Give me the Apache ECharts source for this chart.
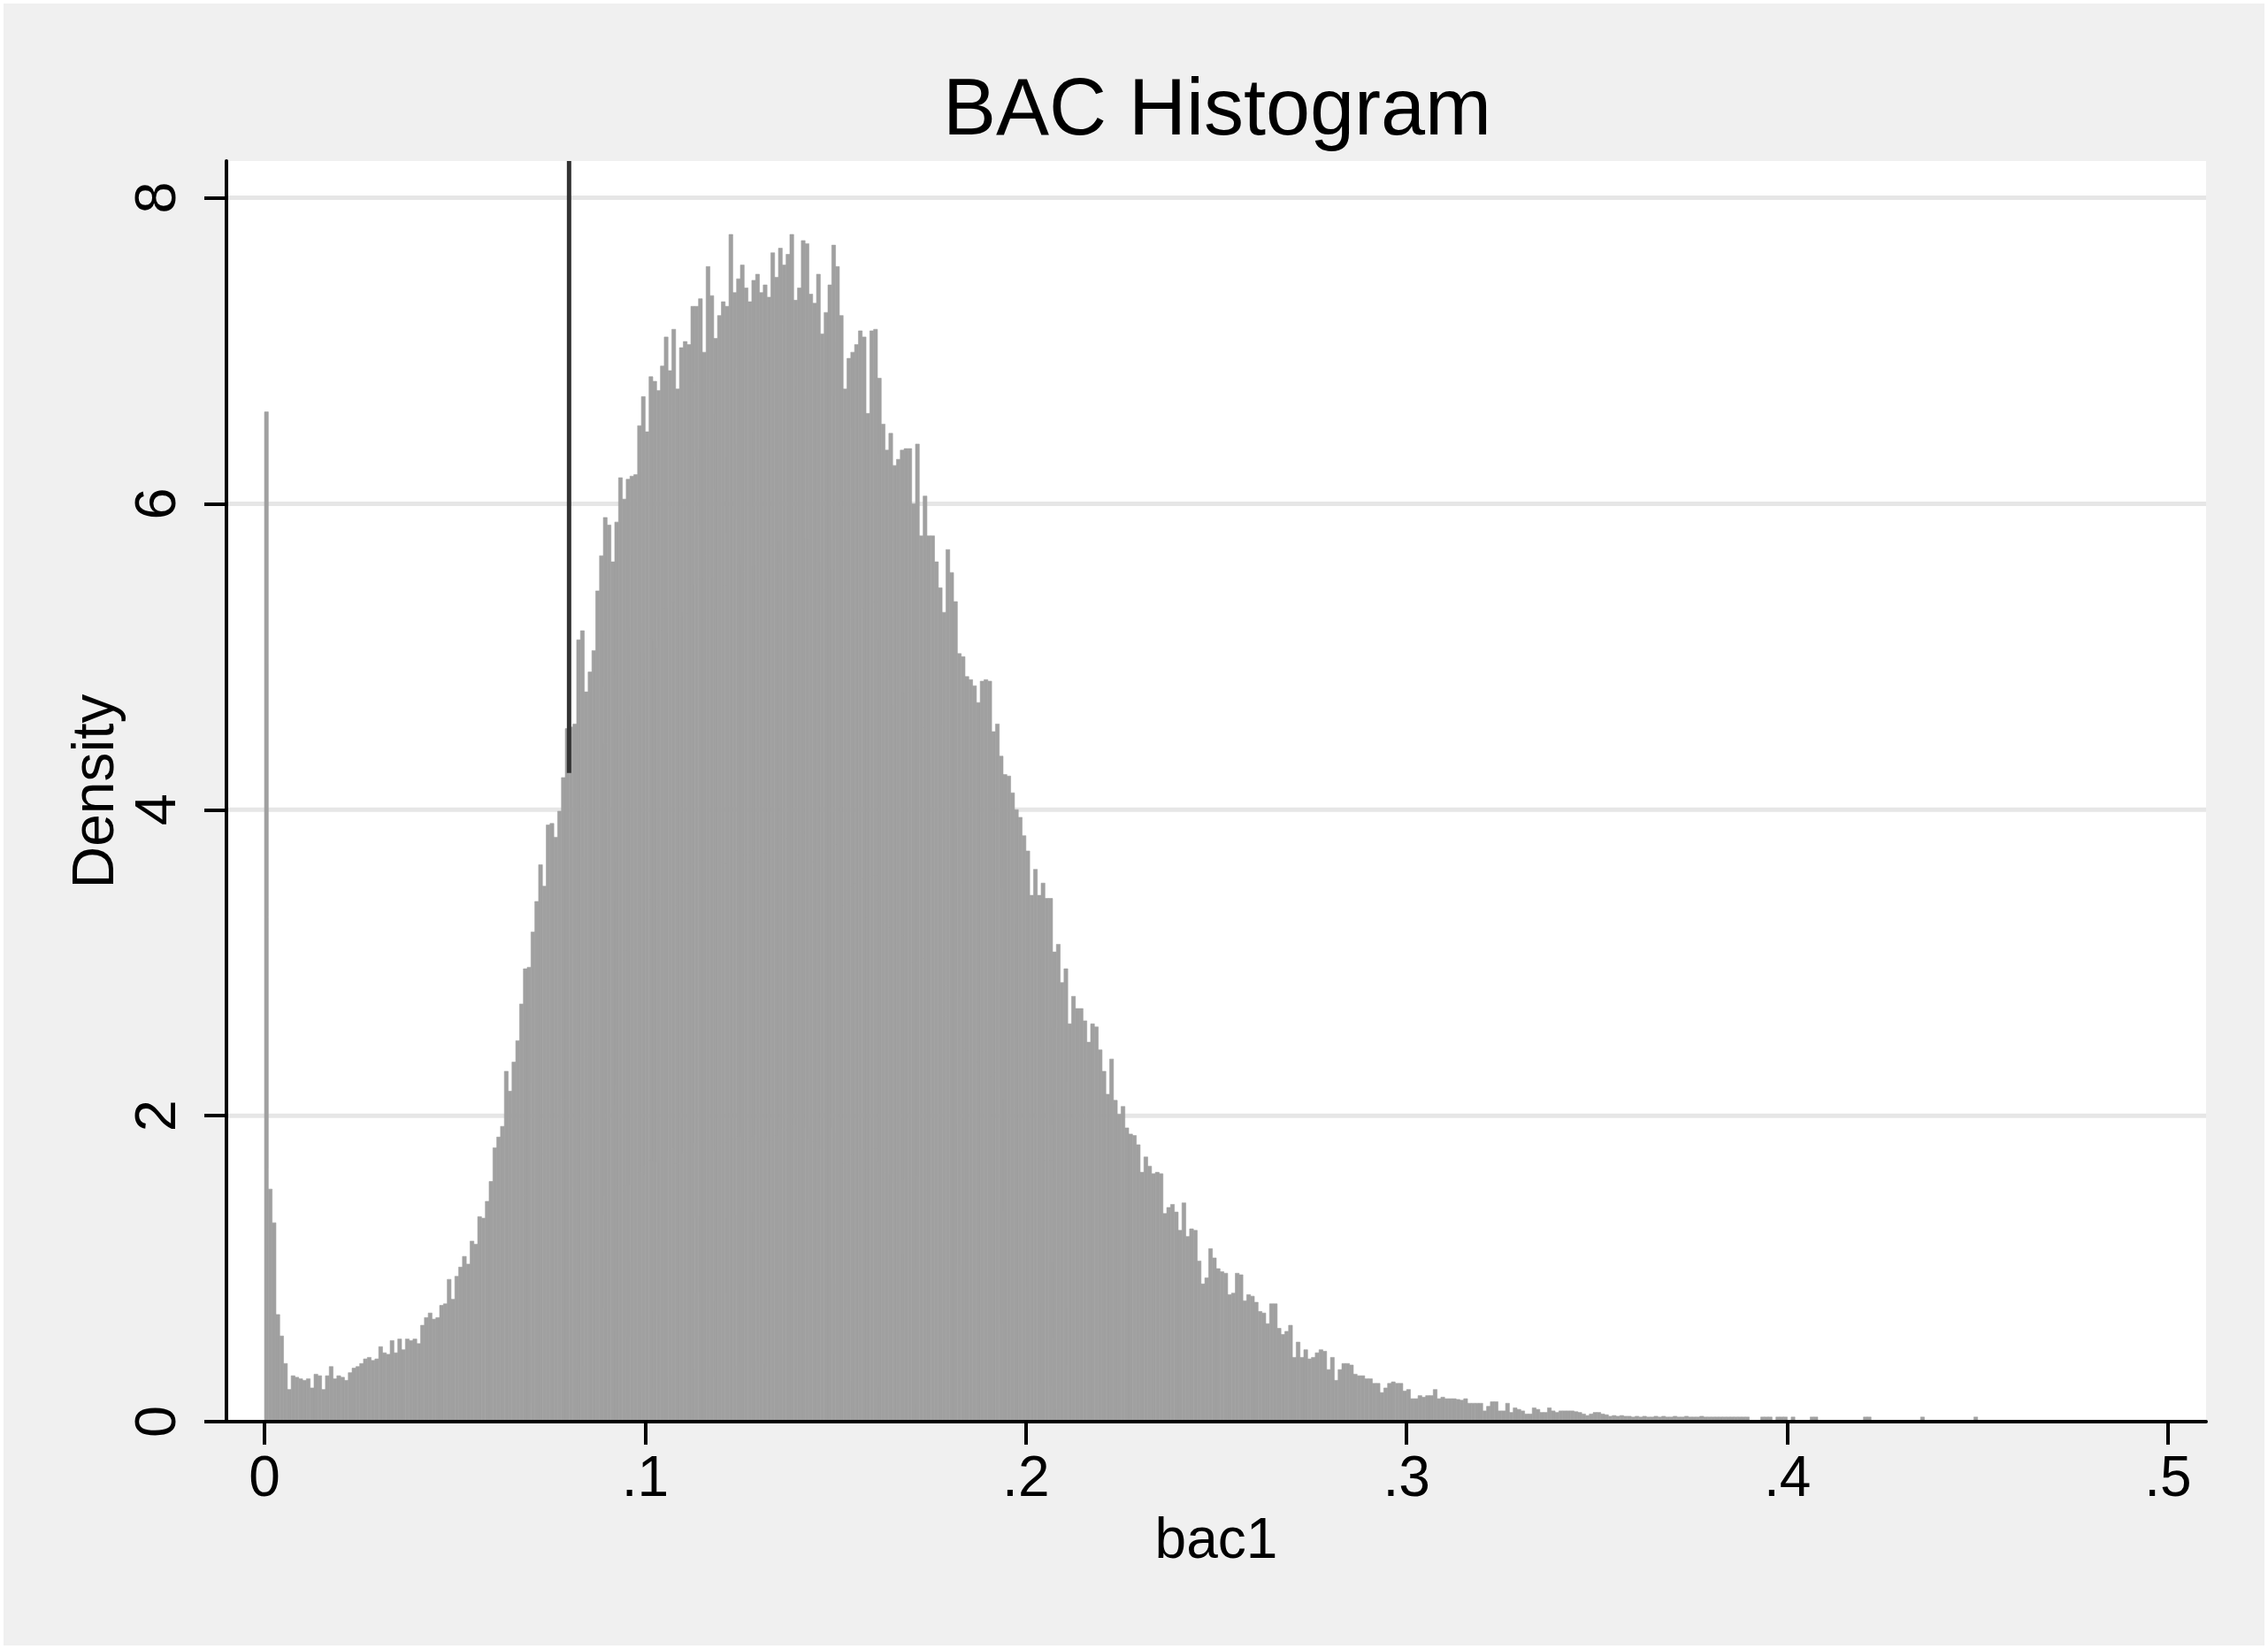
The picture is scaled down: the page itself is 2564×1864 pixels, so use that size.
<!DOCTYPE html>
<html>
<head>
<meta charset="utf-8">
<script src="https://cdn.jsdelivr.net/npm/echarts@6/dist/echarts.min.js"></script>
<style>
  html, body { margin: 0; padding: 0; background: #ffffff; }
  #chart { width: 2564px; height: 1864px; }
</style>
</head>
<body>
<div id="chart"></div>
<script>
// ---- data ----
const titleText = 'BAC Histogram';
const xName = 'bac1';
const yName = 'Density';
const binStart = 0;
const binWidth = 0.001;
// density per bin (bin i covers [i*0.001, (i+1)*0.001)); null = empty bin
const density = [
  6.60, 1.52, 1.30, 0.70, 0.56, 0.38, 0.21, 0.30, 0.29, 0.28,
  0.27, 0.28, 0.22, 0.31, 0.30, 0.21, 0.30, 0.36, 0.28, 0.30,
  0.29, 0.27, 0.32, 0.35, 0.36, 0.38, 0.41, 0.42, 0.40, 0.41,
  0.49, 0.45, 0.44, 0.53, 0.45, 0.54, 0.47, 0.54, 0.53, 0.54,
  0.51, 0.63, 0.68, 0.71, 0.67, 0.68, 0.76, 0.77, 0.93, 0.80,
  0.95, 1.01, 1.08, 1.03, 1.18, 1.16, 1.34, 1.33, 1.44, 1.57,
  1.79, 1.86, 1.93, 2.29, 2.16, 2.35, 2.49, 2.73, 2.96, 2.97,
  3.20, 3.40, 3.64, 3.50, 3.90, 3.91, 3.82, 3.99, 4.21, 4.53,
  4.54, 4.56, 5.11, 5.17, 4.77, 4.90, 5.04, 5.43, 5.66, 5.91,
  5.86, 5.62, 5.88, 6.17, 6.03, 6.16, 6.18, 6.19, 6.51, 6.70,
  6.47, 6.83, 6.80, 6.74, 6.90, 7.09, 6.87, 7.14, 6.75, 7.02,
  7.06, 7.04, 7.29, 7.29, 7.34, 6.99, 7.55, 7.36, 7.08, 7.23,
  7.32, 7.29, 7.76, 7.38, 7.47, 7.56, 7.41, 7.32, 7.46, 7.50,
  7.38, 7.43, 7.35, 7.64, 7.48, 7.67, 7.56, 7.63, 7.76, 7.33,
  7.41, 7.72, 7.70, 7.37, 7.31, 7.50, 7.11, 7.25, 7.43, 7.69,
  7.55, 7.23, 6.75, 6.95, 6.99, 7.04, 7.13, 7.09, 6.59, 7.13,
  7.14, 6.82, 6.52, 6.35, 6.46, 6.25, 6.29, 6.35, 6.36, 6.36,
  6.00, 6.39, 5.79, 6.05, 5.79, 5.79, 5.62, 5.45, 5.29, 5.70,
  5.55, 5.36, 5.02, 5.00, 4.87, 4.85, 4.81, 4.70, 4.84, 4.85,
  4.84, 4.51, 4.56, 4.35, 4.23, 4.22, 4.11, 4.00, 3.95, 3.83,
  3.73, 3.44, 3.61, 3.44, 3.52, 3.42, 3.42, 3.07, 3.12, 2.87,
  2.96, 2.60, 2.78, 2.70, 2.70, 2.62, 2.48, 2.60, 2.58, 2.43,
  2.29, 2.14, 2.37, 2.10, 2.01, 2.06, 1.92, 1.88, 1.87, 1.81,
  1.63, 1.73, 1.67, 1.62, 1.63, 1.62, 1.36, 1.40, 1.42, 1.37,
  1.25, 1.43, 1.21, 1.26, 1.25, 1.05, 0.90, 0.94, 1.13, 1.07,
  1.00, 0.98, 0.97, 0.83, 0.84, 0.97, 0.96, 0.79, 0.83, 0.82,
  0.78, 0.72, 0.71, 0.64, 0.77, 0.77, 0.61, 0.57, 0.59, 0.63,
  0.42, 0.52, 0.42, 0.47, 0.41, 0.42, 0.45, 0.47, 0.46, 0.34,
  0.42, 0.27, 0.34, 0.38, 0.38, 0.37, 0.31, 0.30, 0.30, 0.28,
  0.28, 0.25, 0.25, 0.19, 0.22, 0.25, 0.26, 0.25, 0.25, 0.20,
  0.21, 0.15, 0.15, 0.17, 0.16, 0.17, 0.17, 0.21, 0.15, 0.16,
  0.15, 0.15, 0.15, 0.145, 0.14, 0.15, 0.12, 0.12, 0.12, 0.12,
  0.07, 0.10, 0.13, 0.13, 0.07, 0.07, 0.12, 0.06, 0.09, 0.08,
  0.07, 0.05, 0.05, 0.09, 0.08, 0.06, 0.06, 0.09, 0.07, 0.06,
  0.07, 0.07, 0.07, 0.07, 0.065, 0.06, 0.05, 0.04, 0.05, 0.06,
  0.06, 0.05, 0.045, 0.035, 0.04, 0.035, 0.04, 0.035, 0.035, 0.03,
  0.035, 0.03, 0.035, 0.03, 0.03, 0.035, 0.03, 0.035, 0.03, 0.03,
  0.035, 0.03, 0.03, 0.035, 0.03, 0.03, 0.03, 0.035, 0.03, 0.03,
  0.03, 0.03, 0.03, 0.03, 0.03, 0.03, 0.03, 0.03, 0.03, 0.03,
  null, null, null, 0.03, 0.03, 0.03, null, 0.03, 0.03, 0.03,
  null, 0.03, null, null, null, null, 0.03, 0.03, null, null,
  null, null, null, null, null, null, null, null, null, null,
  0.03, 0.03, null, null, null, null, null, null, null, null,
  null, null, null, null, null, 0.03, null, null, null, null,
  null, null, null, null, null, null, null, null, null, 0.03
];
const xTicks = [0, 0.1, 0.2, 0.3, 0.4, 0.5];
const xTickLabels = ['0', '.1', '.2', '.3', '.4', '.5'];
const yTicks = [0, 2, 4, 6, 8];
const yGridValues = [2, 4, 6, 8];
const xRange = [-0.01, 0.51];
const yRange = [0, 8.24];
const refLineX = 0.08;
const refLineY = [4.24, 8.24];

// ---- build series data ----
const barData = [];
density.forEach(function (d, i) {
  if (d !== null) {
    const x0 = +(binStart + i * binWidth).toFixed(4);
    const x1 = +(binStart + (i + 1) * binWidth).toFixed(4);
    barData.push([x0, x1, d]);
  }
});
const gridData = yGridValues.map(function (v) { return [0, v]; });
const refLineData = refLineY.map(function (y) { return [refLineX, y]; });

const FONT = '"Liberation Sans", Helvetica, Arial, sans-serif';
const chart = echarts.init(document.getElementById('chart'), null, { renderer: 'canvas' });

const option = {
  animation: false,
  backgroundColor: '#f0f0f0',
  textStyle: { fontFamily: FONT, color: '#000' },
  title: {
    text: titleText,
    left: 1376,
    top: 82,
    textAlign: 'center',
    padding: 0,
    textStyle: { fontFamily: FONT, fontSize: 90, fontWeight: 'normal', color: '#000' }
  },
  graphic: [{
    type: 'rect',
    z: 100,
    silent: true,
    shape: { x: 2, y: 2, width: 2560, height: 1860 },
    style: { fill: null, stroke: '#ffffff', lineWidth: 4 }
  }],
  grid: {
    left: 256, right: 70, top: 182, bottom: 257,
    show: true, backgroundColor: '#ffffff', borderWidth: 0
  },
  xAxis: {
    type: 'value',
    min: xRange[0], max: xRange[1],
    z: 5,
    name: xName,
    nameLocation: 'middle',
    nameGap: 104,
    nameMoveOverlap: false,
    nameTextStyle: { fontFamily: FONT, fontSize: 64, color: '#000' },
    axisLine: { show: true, onZero: false, lineStyle: { color: '#000', width: 4 } },
    axisTick: { show: true, customValues: xTicks, length: 26, lineStyle: { color: '#000', width: 4 } },
    axisLabel: {
      customValues: xTicks,
      margin: 34,
      fontFamily: FONT, fontSize: 64, color: '#000',
      formatter: function (v) {
        const idx = xTicks.findIndex(function (t) { return Math.abs(t - v) < 1e-9; });
        return idx >= 0 ? xTickLabels[idx] : '';
      }
    },
    splitLine: { show: false }
  },
  yAxis: {
    type: 'value',
    min: yRange[0], max: yRange[1],
    z: 5,
    name: yName,
    nameLocation: 'middle',
    nameRotate: 90,
    nameGap: 113,
    nameMoveOverlap: false,
    nameTextStyle: { fontFamily: FONT, fontSize: 66, color: '#000' },
    axisLine: { show: true, onZero: false, lineStyle: { color: '#000', width: 4 } },
    axisTick: { show: true, customValues: yTicks, length: 25, lineStyle: { color: '#000', width: 4 } },
    axisLabel: {
      customValues: yTicks,
      rotate: 90,
      margin: 43,
      fontFamily: FONT, fontSize: 65, color: '#000',
      formatter: function (v) { return String(v); }
    },
    splitLine: { show: false }
  },
  series: [
    {
      type: 'custom',
      name: 'grid',
      z: 1,
      silent: true,
      encode: { x: 0, y: 1 },
      data: gridData,
      renderItem: function (params, api) {
        const cs = params.coordSys;
        const y = api.coord([0, api.value(1)])[1];
        return {
          type: 'line',
          shape: { x1: cs.x, y1: y, x2: cs.x + cs.width, y2: y },
          style: { stroke: '#e6e6e6', lineWidth: 5 }
        };
      }
    },
    {
      type: 'custom',
      name: 'density',
      z: 2,
      silent: true,
      encode: { x: [0, 1], y: 2 },
      data: barData,
      renderItem: function (params, api) {
        const p0 = api.coord([api.value(0), api.value(2)]);
        const p1 = api.coord([api.value(1), 0]);
        return {
          type: 'rect',
          shape: { x: p0[0], y: p0[1], width: p1[0] - p0[0], height: p1[1] - p0[1] },
          style: { fill: '#a0a0a0', stroke: '#a0a0a0', lineWidth: 0.6 }
        };
      }
    },
    {
      type: 'line',
      name: 'limit',
      z: 3,
      silent: true,
      symbol: 'none',
      data: refLineData,
      lineStyle: { color: '#333333', width: 5 }
    }
  ]
};
chart.setOption(option);
</script>
</body>
</html>
